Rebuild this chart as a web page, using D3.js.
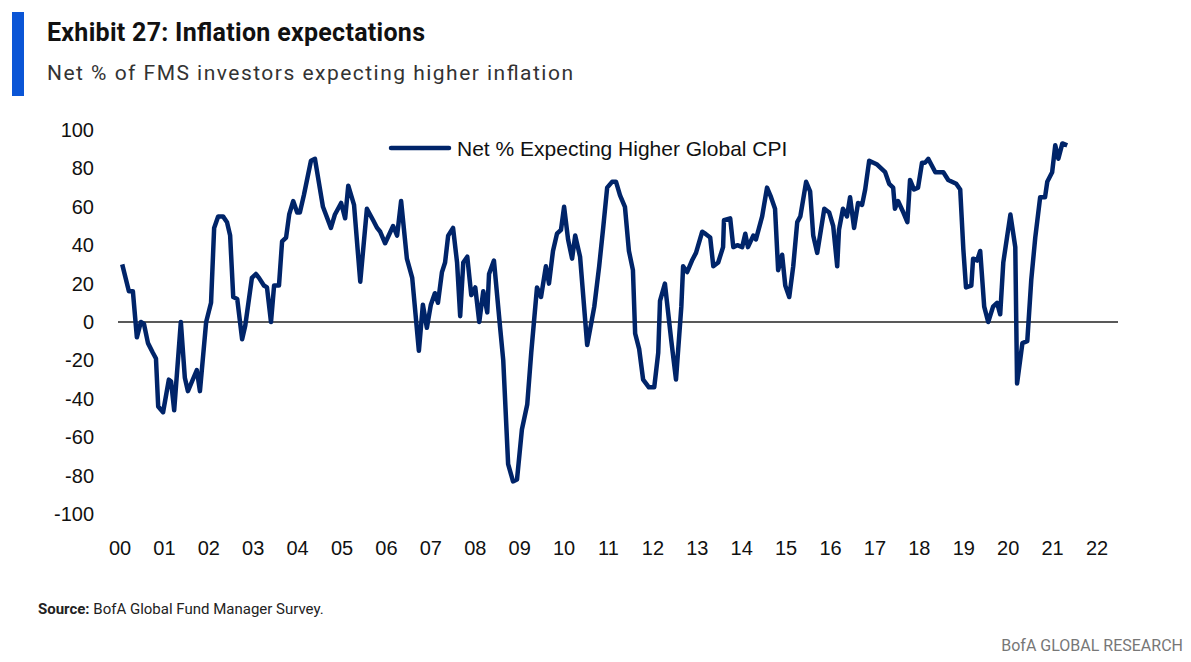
<!DOCTYPE html>
<html><head><meta charset="utf-8">
<script src="https://cdn.jsdelivr.net/npm/d3@7"></script>
<style>body{margin:0;background:#fff}</style></head>
<body><svg id="c" width="1191" height="662"></svg>
<script>
const years=[0.05,0.20,0.29,0.38,0.47,0.54,0.63,0.74,0.81,0.86,0.97,1.10,1.15,1.22,1.37,1.46,1.53,1.73,1.80,1.94,2.05,2.12,2.21,2.32,2.41,2.48,2.55,2.64,2.75,2.82,2.97,3.06,3.13,3.24,3.31,3.40,3.47,3.58,3.65,3.74,3.81,3.90,3.99,4.05,4.14,4.30,4.39,4.57,4.75,4.84,4.98,5.07,5.14,5.27,5.41,5.56,5.70,5.79,5.86,5.97,6.15,6.24,6.33,6.46,6.58,6.73,6.82,6.91,7.00,7.09,7.16,7.25,
7.32,7.39,7.50,7.59,7.66,7.73,7.82,7.91,8.00,8.09,8.18,8.27,8.31,8.42,8.56,8.63,8.74,8.85,8.94,9.05,9.17,9.26,9.39,9.48,9.59,9.66,9.75,9.84,9.93,10.00,10.09,10.18,10.25,10.36,10.52,10.68,10.79,10.88,10.97,11.08,11.17,11.26,11.37,11.46,11.55,11.60,11.69,11.78,11.91,12.03,12.12,12.16,12.27,12.41,12.52,12.64,12.68,12.77,12.88,12.97,13.11,13.18,13.29,13.36,13.47,13.58,13.60,13.74,13.81,13.90,14.01,14.08,14.14,14.26,14.32,14.46,14.57,14.66,14.75,14.82,14.91,
14.98,15.07,15.16,15.25,15.32,15.45,15.54,15.61,15.70,15.86,15.97,16.06,16.15,16.19,16.28,16.37,16.44,16.53,16.62,16.71,16.78,16.87,17.05,17.23,17.32,17.41,17.45,17.52,17.64,17.73,17.79,17.88,17.97,18.06,18.13,18.20,18.36,18.54,18.65,18.83,18.92,18.99,19.05,19.17,19.21,19.30,19.37,19.46,19.55,19.66,19.75,19.82,19.89,20.05,20.16,20.20,20.32,20.43,20.52,20.61,20.72,20.83,20.88,20.99,21.06,21.13,21.22,21.33];
const values=[30,16,16,-8,0,-1,-11,-16,-19,-44,-47,-30,-31,-46,0,-29,-36,-25,-36,0,10,49,55,55,52,45,13,12,-9,-2,23,25,23,19,18,0,19,19,42,44,56,63,57,57,66,84,85,60,49,56,62,54,71,61,21,59,53,49,47,41,50,45,63,33,23,-15,9,-3,9,15,10,26,
31,45,49,31,3,31,34,14,18,0,16,5,25,32,-3,-20,-74,-83,-82,-56,-43,-16,18,13,29,20,37,46,48,60,43,33,45,34,-12,8,29,49,70,73,73,66,60,37,27,-6,-14,-30,-34,-34,-16,11,20,-9,-30,8,29,26,32,36,47,46,44,29,31,39,53,54,39,40,39,46,39,45,43,55,70,65,59,27,35,
19,13,29,52,55,73,68,45,36,59,57,50,29,48,59,55,65,49,62,61,69,84,82,78,72,70,59,63,57,52,74,69,70,83,83,85,78,78,74,72,69,38,18,19,33,32,37,8,0,8,10,4,31,56,39,-32,-11,-10,22,44,65,65,73,78,92,85,93,92];
const yTicks=[100,80,60,40,20,0,-20,-40,-60,-80,-100];
const xTicks=[0,1,2,3,4,5,6,7,8,9,10,11,12,13,14,15,16,17,18,19,20,21,22];
const xTickLabels=xTicks.map(d=>String(d).padStart(2,"0"));
const seriesName="Net % Expecting Higher Global CPI";

const svg=d3.select("#c");
const x=d3.scaleLinear().domain([0,22]).range([120,1097]);
const y=d3.scaleLinear().domain([-100,100]).range([514,130]);
svg.append("rect").attr("x",12).attr("y",12).attr("width",12).attr("height",84).attr("fill","#0a55d6");
svg.append("text").attr("x",47).attr("y",41).text("Exhibit 27: Inflation expectations")
 .attr("font-family","Roboto, 'Liberation Sans Narrow', sans-serif").attr("font-weight","bold").attr("font-size",25).attr("fill","#111").attr("textLength",378);
svg.append("text").attr("x",47).attr("y",80).text("Net % of FMS investors expecting higher inflation")
 .attr("font-family","Roboto, sans-serif").attr("font-size",21).attr("fill","#333").attr("textLength",526);
const ax=svg.append("g").attr("font-family","Liberation Sans, Arial, sans-serif").attr("font-size",20).attr("fill","#111");
yTicks.forEach(t=>ax.append("text").attr("x",94).attr("y",y(t)+7).attr("text-anchor","end").text(t));
xTicks.forEach((t,i)=>ax.append("text").attr("x",x(t)).attr("y",555).attr("text-anchor","middle").text(xTickLabels[i]));
svg.append("line").attr("x1",118).attr("x2",1118).attr("y1",y(0)).attr("y2",y(0)).attr("stroke","#222").attr("stroke-width",1.5);
const line=d3.line().x((d,i)=>x(years[i])).y(d=>y(d));
svg.append("path").datum(values).attr("d",line).attr("fill","none").attr("stroke","#002469").attr("stroke-width",4.5).attr("stroke-linejoin","round");
svg.append("line").attr("x1",391).attr("x2",449).attr("y1",148).attr("y2",148).attr("stroke","#002469").attr("stroke-width",4.5).attr("stroke-linecap","round");
svg.append("text").attr("x",457).attr("y",156).text(seriesName).attr("font-family","Liberation Sans, Arial, sans-serif").attr("font-size",21).attr("fill","#111");
svg.append("text").attr("x",38).attr("y",614).attr("font-family","Roboto, sans-serif").attr("font-size",15).attr("fill","#222")
 .call(t=>{t.append("tspan").attr("font-weight","bold").text("Source:");t.append("tspan").text(" BofA Global Fund Manager Survey.");});
svg.append("text").attr("x",1183).attr("y",651).attr("text-anchor","end").attr("font-family","Roboto, sans-serif").attr("font-size",16).attr("fill","#777").text("BofA GLOBAL RESEARCH");
</script></body></html>
